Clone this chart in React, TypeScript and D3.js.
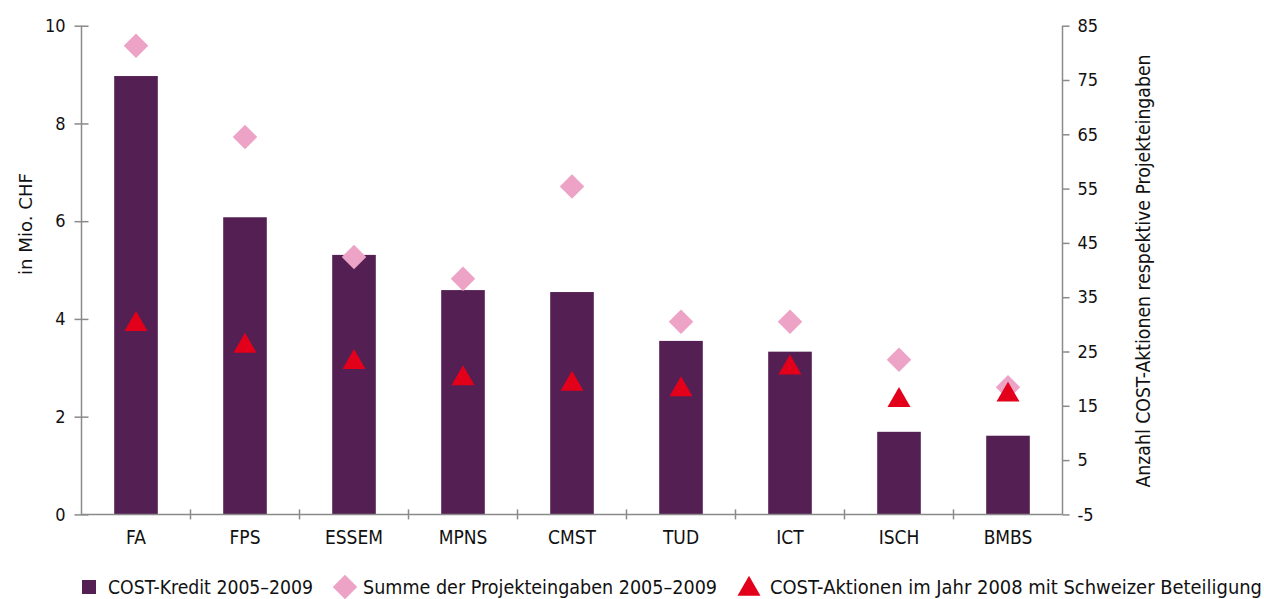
import * as React from 'react';
import * as d3 from 'd3';

const useRef = React.useRef;
const useEffect = React.useEffect;

// categories (COST domains)
const domains = ['FA', 'FPS', 'ESSEM', 'MPNS', 'CMST', 'TUD', 'ICT', 'ISCH', 'BMBS'];
// COST-Kredit 2005–2009, in Mio. CHF (left axis)
const kredit = [8.97, 6.08, 5.31, 4.59, 4.55, 3.55, 3.33, 1.69, 1.61];
// Summe der Projekteingaben 2005–2009 (right axis)
const eingaben = [81.3, 64.5, 42.4, 38.4, 55.4, 30.5, 30.5, 23.5, 18.4];
// COST-Aktionen im Jahr 2008 mit Schweizer Beteiligung (right axis)
const aktionen = [30, 26, 23, 20, 19, 18, 22, 16, 17];

const leftTicks = [0, 2, 4, 6, 8, 10];
const rightTicks = [-5, 5, 15, 25, 35, 45, 55, 65, 75, 85];

const legendLabels = [
  'COST-Kredit 2005–2009',
  'Summe der Projekteingaben 2005–2009',
  'COST-Aktionen im Jahr 2008 mit Schweizer Beteiligung'
];
// widths the condensed original font takes
const legendWidths = [205, 354, 492];

const W = 1264;
const H = 599;
const FONT = "'Liberation Sans Narrow', 'DejaVu Sans Condensed', 'Roboto Condensed', sans-serif";
const BAR = '#541f53';
const PINK = '#eca3c5';
const RED = '#e2001a';
const AXIS = '#8a8a8a';

export default function App() {
  const ref = useRef<SVGSVGElement>(null);

  useEffect(() => {
    const svg = d3.select(ref.current);
    svg.selectAll('*').remove();

    const left = 81.5;
    const right = 1062.5;
    const top = 25.7;
    const bottom = 514.4;

    const x = d3.scaleBand().domain(domains).range([left, right]).paddingInner(0.6).paddingOuter(0.3);
    const xb = d3.scaleBand().domain(domains).range([left, right]);
    const yL = d3.scaleLinear().domain([0, 10]).range([bottom, top]);
    const yR = d3.scaleLinear().domain([-5, 85]).range([bottom, top]);

    const g = svg.append('g').style('font-family', FONT);

    // bars
    g.selectAll('rect.bar')
      .data(kredit)
      .join('rect')
      .attr('class', 'bar')
      .attr('x', (_, i) => x(domains[i])!)
      .attr('width', x.bandwidth())
      .attr('y', d => yL(d))
      .attr('height', d => yL(0) - yL(d))
      .attr('fill', BAR);

    // diamonds
    const diamond = d3.symbol().type(d3.symbolSquare).size(300);
    g.selectAll('path.dia')
      .data(eingaben)
      .join('path')
      .attr('class', 'dia')
      .attr('d', diamond()!)
      .attr('transform', (d, i) => `translate(${xb(domains[i])! + xb.bandwidth() / 2},${yR(d)}) rotate(45)`)
      .attr('fill', PINK);

    // triangles
    const tri = d3.symbol().type(d3.symbolTriangle).size(229);
    g.selectAll('path.tri')
      .data(aktionen)
      .join('path')
      .attr('class', 'tri')
      .attr('d', tri()!)
      .attr('transform', (d, i) => `translate(${xb(domains[i])! + xb.bandwidth() / 2},${yR(d)})`)
      .attr('fill', RED);

    // left axis
    const la = g.append('g').attr('transform', `translate(${left},0)`)
      .call(d3.axisLeft(yL).tickValues(leftTicks).tickSize(7).tickPadding(9).tickFormat(d => String(d)));
    la.select('.domain').remove();
    la.append('line').attr('y1', top).attr('y2', bottom).attr('stroke', AXIS).attr('stroke-width', 1.5);
    la.selectAll('.tick line').attr('stroke', AXIS).attr('stroke-width', 1.5).attr('x2', 7).attr('x1', -7);
    la.selectAll('.tick text').attr('font-size', 18).attr('fill', '#111').style('font-family', FONT);

    // right axis
    const ra = g.append('g').attr('transform', `translate(${right},0)`)
      .call(d3.axisRight(yR).tickValues(rightTicks).tickSize(7).tickPadding(8).tickFormat(d => String(d)));
    ra.select('.domain').remove();
    ra.append('line').attr('y1', top).attr('y2', bottom).attr('stroke', AXIS).attr('stroke-width', 1.5);
    ra.selectAll('.tick line').attr('stroke', AXIS).attr('stroke-width', 1.5);
    ra.selectAll('.tick text').attr('font-size', 18).attr('fill', '#111').style('font-family', FONT);

    // bottom axis
    const ba = g.append('g').attr('transform', `translate(0,${bottom})`)
      .call(d3.axisBottom(xb).tickSize(0).tickPadding(16));
    ba.select('.domain').remove();
    ba.append('line').attr('x1', left).attr('x2', right).attr('stroke', AXIS).attr('stroke-width', 1.5);
    ba.selectAll('.bt')
      .data(domains.slice(1))
      .join('line')
      .attr('class', 'bt')
      .attr('x1', d => xb(d)!)
      .attr('x2', d => xb(d)!)
      .attr('y1', -5)
      .attr('y2', 5)
      .attr('stroke', AXIS)
      .attr('stroke-width', 1.5);
    ba.selectAll('.tick text').attr('font-size', 19).attr('fill', '#111').style('font-family', FONT);

    // axis titles
    g.append('text')
      .attr('transform', `translate(32,224) rotate(-90)`)
      .attr('text-anchor', 'middle')
      .attr('font-size', 18)
      .attr('fill', '#111')
      .attr('textLength', 102)
      .attr('lengthAdjust', 'spacingAndGlyphs')
      .text('in Mio. CHF');
    g.append('text')
      .attr('transform', `translate(1150,271) rotate(-90)`)
      .attr('text-anchor', 'middle')
      .attr('font-size', 19)
      .attr('fill', '#111')
      .attr('textLength', 433)
      .attr('lengthAdjust', 'spacingAndGlyphs')
      .text('Anzahl COST-Aktionen respektive Projekteingaben');

    // legend
    const ly = 587;
    const leg = g.append('g');
    let cx = 82;
    legendLabels.forEach((lab, i) => {
      if (i === 0) {
        leg.append('rect').attr('x', cx).attr('y', ly - 7).attr('width', 14).attr('height', 14).attr('fill', BAR);
        cx += 26;
      } else if (i === 1) {
        leg.append('path').attr('d', d3.symbol().type(d3.symbolSquare).size(300)()!)
          .attr('transform', `translate(${cx + 12},${ly}) rotate(45)`).attr('fill', PINK);
        cx += 30;
      } else {
        leg.append('path').attr('d', d3.symbol().type(d3.symbolTriangle).size(229)()!)
          .attr('transform', `translate(${cx + 12},${ly + 2})`).attr('fill', RED);
        cx += 33;
      }
      leg.append('text')
        .attr('x', cx)
        .attr('y', ly + 7)
        .attr('font-size', 20)
        .attr('fill', '#111')
        .attr('textLength', legendWidths[i])
        .attr('lengthAdjust', 'spacingAndGlyphs')
        .text(lab);
      cx += legendWidths[i] + 20;
    });
  }, []);

  return (
    <svg
      ref={ref}
      width={W}
      height={H}
      style={{ position: 'absolute', left: 0, top: 0, background: '#fff' }}
    />
  );
}
